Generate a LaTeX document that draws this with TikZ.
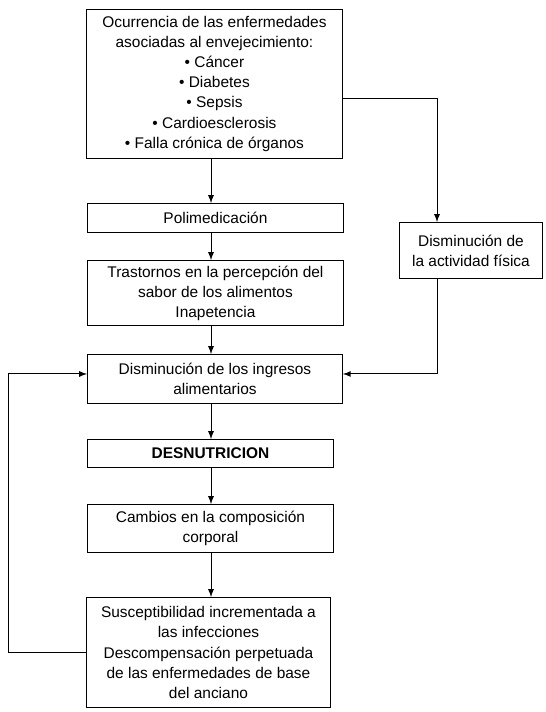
\documentclass[tikz,border=0pt]{standalone}
\usepackage{fontspec}
\setmainfont{Liberation Sans}
\usetikzlibrary{arrows,positioning}

\begin{document}
\begin{tikzpicture}[x=0.02cm,y=-0.02cm,->,>=latex,line width=0.55pt,
  font=\fontsize{8.8pt}{11.4pt}\selectfont]
\tikzstyle{every node}=[draw,rectangle,align=center,inner sep=0pt,anchor=north west]

\useasboundingbox (0,0) rectangle (545,712);

\node[minimum width=5.12cm,minimum height=2.98cm] (occur) at (86,9)
  {Ocurrencia de las enfermedades\\asociadas al envejecimiento:\\%
   • Cáncer\\• Diabetes\\• Sepsis\\• Cardioesclerosis\\• Falla crónica de órganos};
\node[minimum width=5.12cm,minimum height=0.58cm] (polimed) at (87,203) {Polimedicación};
\node[minimum width=5.12cm,minimum height=1.3cm] (trastornos) at (87,260)
  {Trastornos en la percepción del\\sabor de los alimentos\\Inapetencia};
\node[minimum width=5.1cm,minimum height=0.98cm] (ingresos) at (87,354)
  {Disminución de los ingresos\\alimentarios};
\node[minimum width=4.92cm,minimum height=0.56cm] (desnut) at (87,439) {\textbf{DESNUTRICION}};
\node[minimum width=4.92cm,minimum height=0.96cm] (cambios) at (87,504)
  {Cambios en la composición\\corporal};
\node[minimum width=4.88cm,minimum height=2.2cm] (suscep) at (86,597)
  {Susceptibilidad incrementada a\\las infecciones\\Descompensación perpetuada\\de las enfermedades de base\\del anciano};
\node[minimum width=2.86cm,minimum height=1.12cm] (actividad) at (399,222)
  {Disminución de\\la actividad física};

\coordinate (axis) at (211,0);
\coordinate (branch) at (437,0);
\coordinate (loop) at (8,0);

\draw (occur.south -| axis) -- (polimed.north -| axis);
\draw (polimed.south -| axis) -- (trastornos.north -| axis);
\draw (trastornos.south -| axis) -- (ingresos.north -| axis);
\draw (ingresos.south -| axis) -- (desnut.north -| axis);
\draw (desnut.south -| axis) -- (cambios.north -| axis);
\draw (cambios.south -| axis) -- (suscep.north -| axis);

\draw ([yshift=-0.29cm]occur.east) -| (actividad.north -| branch);
\draw (actividad.south -| branch) |- ([yshift=0.1cm]ingresos.east);
\draw (suscep.west) -- (suscep.west -| loop) |- ([yshift=0.1cm]ingresos.west);
\end{tikzpicture}
\end{document}
